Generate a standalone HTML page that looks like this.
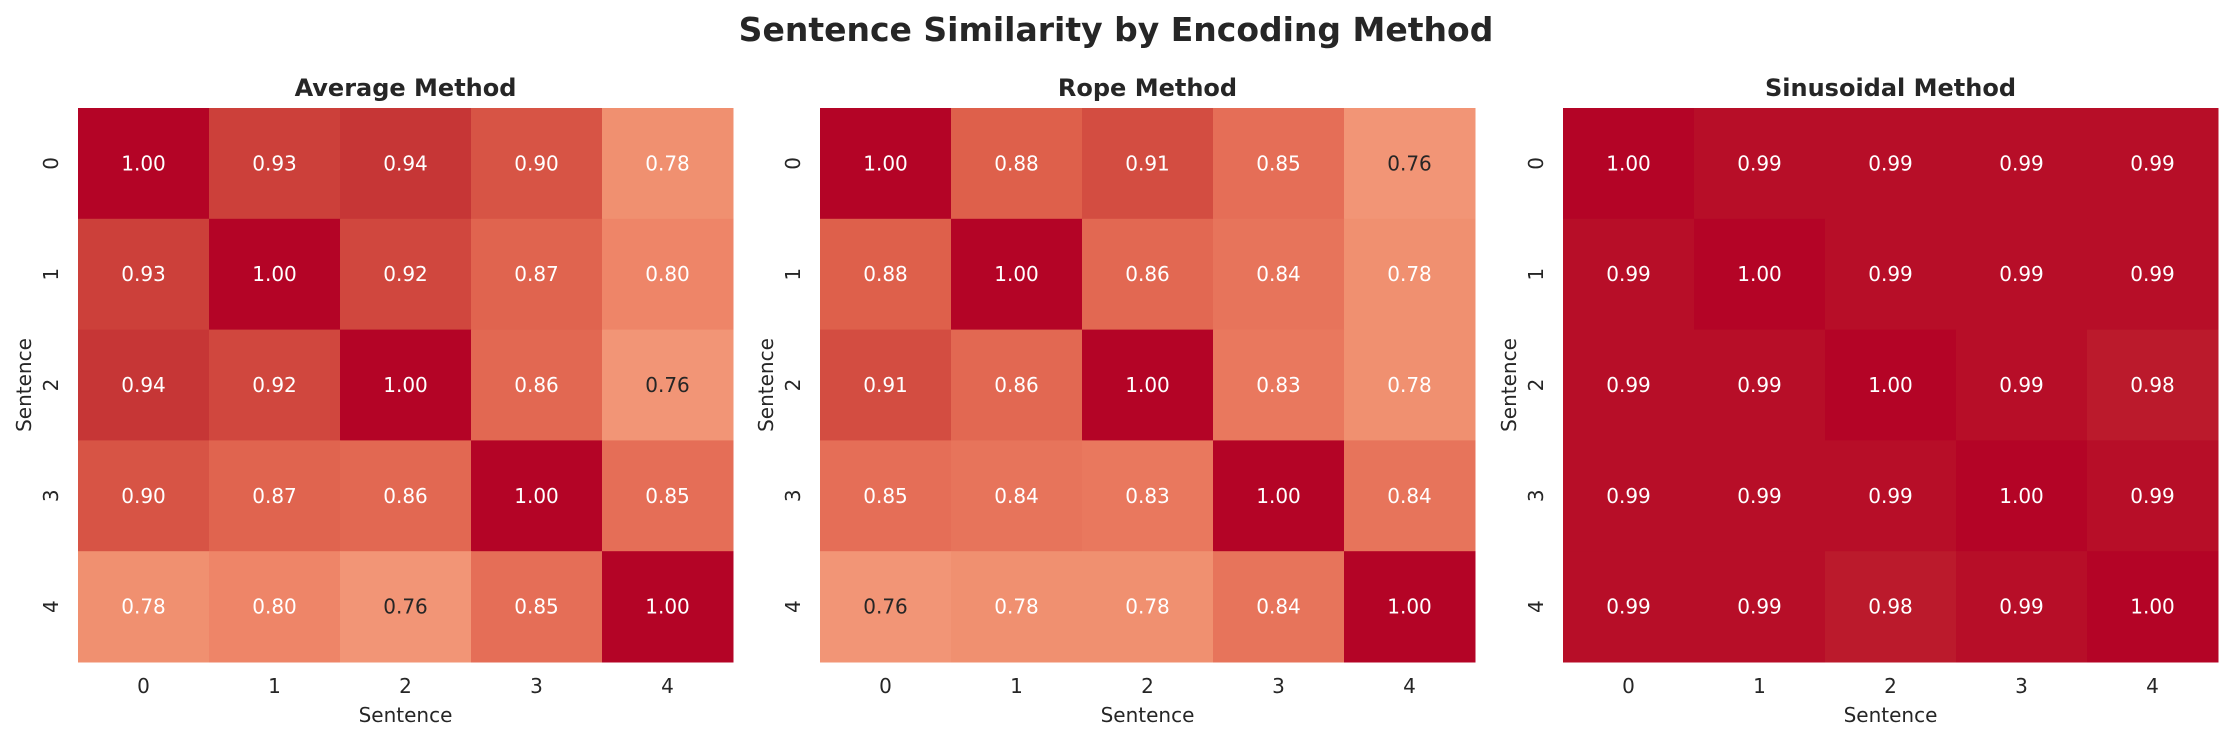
<!DOCTYPE html>
<html><head><meta charset="utf-8"><style>
html,body{margin:0;padding:0;background:#fff;}
svg{display:block;font-family:"DejaVu Sans","Liberation Sans",sans-serif;}
</style></head><body>
<svg id="fig" width="2233" height="740" viewBox="0 0 2233 740" xmlns="http://www.w3.org/2000/svg">
<text x="1116" y="41" text-anchor="middle" font-size="33" font-weight="bold" fill="#262626">Sentence Similarity by Encoding Method</text>
</svg>
<script>
const labels = ["0","1","2","3","4"];
const titles = ["Average Method","Rope Method","Sinusoidal Method"];
const averageValues = [
 [1.00,0.93,0.94,0.90,0.78],
 [0.93,1.00,0.92,0.87,0.80],
 [0.94,0.92,1.00,0.86,0.76],
 [0.90,0.87,0.86,1.00,0.85],
 [0.78,0.80,0.76,0.85,1.00]];
const ropeValues = [
 [1.00,0.88,0.91,0.85,0.76],
 [0.88,1.00,0.86,0.84,0.78],
 [0.91,0.86,1.00,0.83,0.78],
 [0.85,0.84,0.83,1.00,0.84],
 [0.76,0.78,0.78,0.84,1.00]];
const sinusoidalValues = [
 [1.00,0.99,0.99,0.99,0.99],
 [0.99,1.00,0.99,0.99,0.99],
 [0.99,0.99,1.00,0.99,0.98],
 [0.99,0.99,0.99,1.00,0.99],
 [0.99,0.99,0.98,0.99,1.00]];
const panels = [averageValues, ropeValues, sinusoidalValues];

const NS = "http://www.w3.org/2000/svg";
const svg = document.getElementById("fig");
const stops = [[0.70,[246,167,137]],[0.76,[242,149,118]],[0.78,[240,144,112]],[0.80,[238,133,104]],[0.84,[231,116,91]],[0.86,[226,104,82]],[0.88,[222,96,75]],[0.90,[215,84,69]],[0.93,[204,64,58]],[0.94,[198,54,54]],[0.98,[187,26,44]],[0.99,[183,14,40]],[1.00,[180,4,38]]];
function color(v){
  if(v<=stops[0][0]) return "rgb("+stops[0][1].join(",")+")";
  for(let i=1;i<stops.length;i++){
    if(v<=stops[i][0]){
      const a=stops[i-1],b=stops[i],t=(v-a[0])/(b[0]-a[0]);
      return "rgb("+a[1].map((c,k)=>Math.round(c+(b[1][k]-c)*t)).join(",")+")";
    }
  }
  return "rgb(180,4,38)";
}
function mk(tag,attrs,text){
  const e=document.createElementNS(NS,tag);
  for(const k in attrs) e.setAttribute(k,attrs[k]);
  if(text!==undefined) e.textContent=text;
  svg.appendChild(e); return e;
}
const lefts=[78,820,1563], top0=108, W=655, H=554;
panels.forEach((vals,p)=>{
  const x0=lefts[p], n=labels.length, cw=W/n, ch=H/n;
  const xs=i=>x0+i*cw, ys=j=>top0+j*ch;
  const t=mk("text",{x:x0+W/2,y:96,"text-anchor":"middle","font-size":"24","font-weight":"bold",fill:"#262626"},titles[p]);
  
  
  vals.forEach((row,j)=>row.forEach((v,i)=>{
    const r=mk("rect",{x:xs(i),y:ys(j),width:cw+0.5,height:ch+0.5,fill:color(v)});
    
    
    const tx=mk("text",{x:xs(i)+cw/2,y:ys(j)+ch/2+7,"text-anchor":"middle","font-size":"20",fill:v<0.77?"#262626":"#ffffff"},v.toFixed(2));
    
    
  }));
  labels.forEach((l,i)=>{
    const a=mk("text",{x:xs(i)+cw/2,y:693,"text-anchor":"middle","font-size":"20",fill:"#262626"},l);
    
    
    const yy=ys(i)+ch/2, xx=x0-20;
    const b=mk("text",{x:xx,y:yy,"text-anchor":"middle","font-size":"20",fill:"#262626",transform:"rotate(-90 "+xx+" "+yy+")"},l);
    
    
  });
  const xl=mk("text",{x:x0+W/2,y:722,"text-anchor":"middle","font-size":"20",fill:"#262626"},"Sentence");
  
  
  const lx=x0-47, ly=top0+H/2;
  const yl=mk("text",{x:lx,y:ly,"text-anchor":"middle","font-size":"20",fill:"#262626",transform:"rotate(-90 "+lx+" "+ly+")"},"Sentence");
  
  
});
</script>
</body></html>
